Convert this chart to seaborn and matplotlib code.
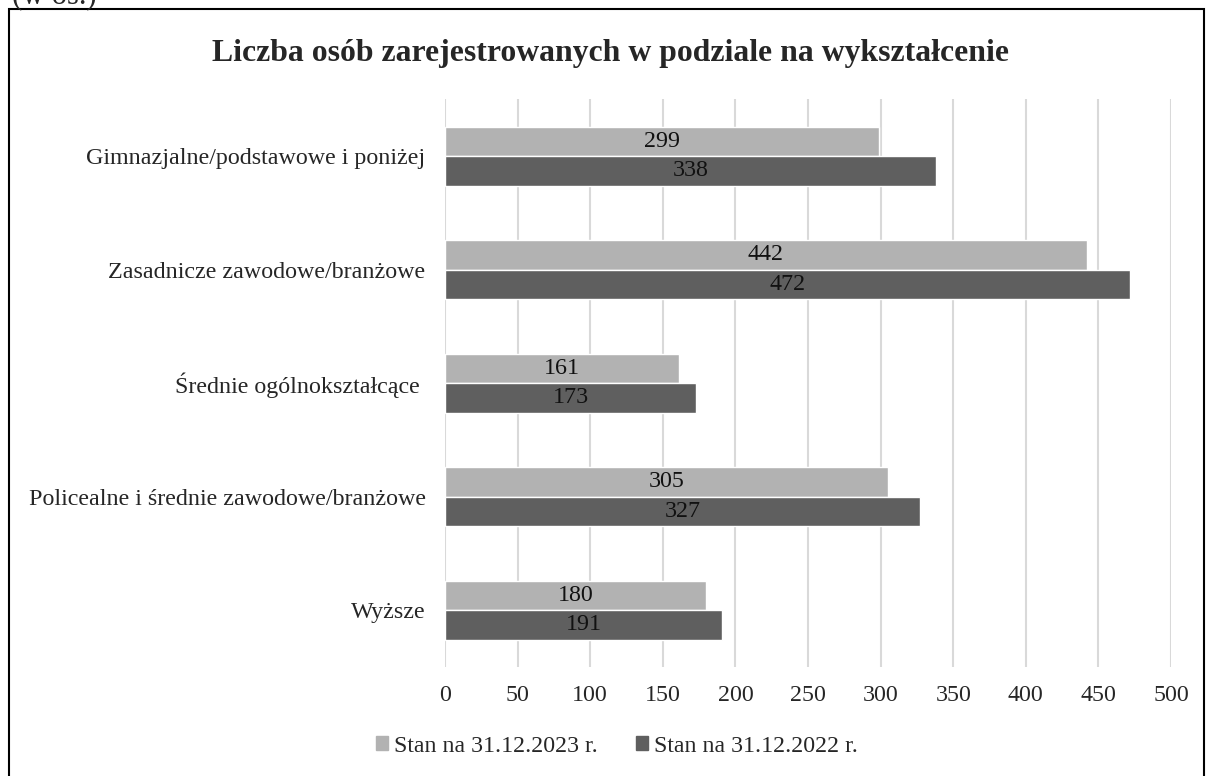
import pandas as pd
import matplotlib.pyplot as plt
import seaborn as sns
from matplotlib.patches import Rectangle

categories = ['Gimnazjalne/podstawowe i poniżej', 'Zasadnicze zawodowe/branżowe',
              'Średnie ogólnokształcące ', 'Policealne i średnie zawodowe/branżowe', 'Wyższe']
series = ['Stan na 31.12.2023 r.', 'Stan na 31.12.2022 r.']
values_2023 = [299, 442, 161, 305, 180]
values_2022 = [338, 472, 173, 327, 191]
colors = ['#b2b2b2', '#5f5f5f']

df = pd.DataFrame({
    'Kategoria': categories * 2,
    'Seria': [series[0]] * 5 + [series[1]] * 5,
    'Liczba': values_2023 + values_2022,
})

sns.set_style('white')
plt.rcParams['font.family'] = ['Liberation Serif', 'DejaVu Serif']

fig = plt.figure(figsize=(12.06, 7.76), dpi=100)
ax = fig.add_axes([0.369, 0.1405, 0.602, 0.7315])

sns.barplot(df, y='Kategoria', x='Liczba', hue='Seria', hue_order=series,
            palette=colors, orient='h', width=0.52, saturation=1, ax=ax, legend=False)

for cont in ax.containers:
    ax.bar_label(cont, label_type='center', fontsize=17.3, color='#111111')

ax.set_xlim(0, 500)
ax.set_xticks(range(0, 501, 50))
ax.grid(axis='x', color='#d9d9d9', linewidth=1.5)
ax.set_axisbelow(True)
for s in ax.spines.values():
    s.set_visible(False)
ax.set_xlabel('')
ax.set_ylabel('')
ax.tick_params(axis='x', labelsize=17.3, pad=13, length=0)
ax.tick_params(axis='y', labelsize=17.3, pad=14, length=0)

fig.text(610 / 1206, 1 - 61 / 776, 'Liczba osób zarejestrowanych w podziale na wykształcenie',
         fontsize=22.9, fontweight='bold', ha='center', va='baseline')

handles = [Rectangle((0, 0), 1, 1, color=c) for c in colors]
fig.legend(handles, series, loc='center', bbox_to_anchor=(617 / 1206, 1 - 746 / 776),
           ncol=2, frameon=False, fontsize=17.2, handlelength=0.5, handleheight=0.5,
           handletextpad=0.25, columnspacing=1.6)

fig.add_artist(Rectangle((9 / 1206, -0.01), (1204 - 9) / 1206, 1 - 9 / 776 + 0.01,
                         transform=fig.transFigure, fill=False, edgecolor='black', linewidth=1.5))
fig.text(12 / 1206, 1 - 3 / 776, '(w os.)', fontsize=22, va='baseline', ha='left')

fig.savefig('out.png', dpi=100)
